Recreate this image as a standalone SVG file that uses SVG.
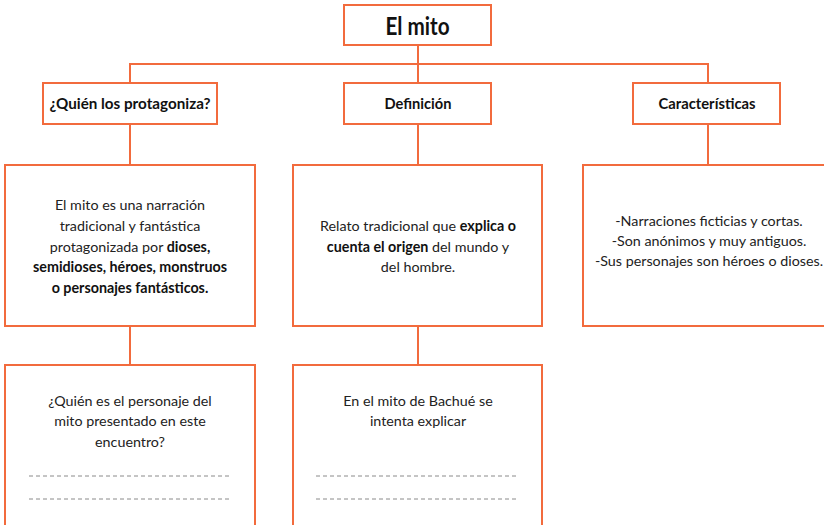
<svg xmlns="http://www.w3.org/2000/svg" width="824" height="525" viewBox="0 0 824 525">
<style>
.box{fill:#fff;stroke:#F26B3D;stroke-width:2}
.con line, .con path{stroke:#F26B3D;stroke-width:2;fill:none}
.dash{stroke:#8a8a8a;stroke-width:1;stroke-dasharray:4 3}
.t{font-family:Lato,"Open Sans","Liberation Sans",sans-serif;fill:#222;text-anchor:middle}
.title{font-size:25px;font-weight:bold;fill:#111}
.h{font-size:16px;font-weight:bold;fill:#111}
.b{font-size:14.3px}
.bb{font-weight:bold;fill:#111}
</style>
<rect width="824" height="525" fill="#fff"/>
<g class="con" id="connectors">
<line x1="418" y1="45" x2="418" y2="64"/>
<path d="M130 83 V64 H708 V83"/>
<line x1="418" y1="64" x2="418" y2="83"/>
<line x1="130" y1="124" x2="130" y2="165"/>
<line x1="418" y1="124" x2="418" y2="165"/>
<line x1="708" y1="124" x2="708" y2="165"/>
<line x1="130" y1="326" x2="130" y2="365"/>
<line x1="418" y1="326" x2="418" y2="365"/>
</g>
<g id="n-mito">
<rect class="box" x="344" y="5" width="147" height="40"/>
<text class="t title" x="417.5" y="35" textLength="64" lengthAdjust="spacingAndGlyphs">El mito</text>
</g>
<g id="n-quien">
<rect class="box" x="43" y="83" width="174" height="41"/>
<text class="t h" x="130" y="109" textLength="161" lengthAdjust="spacingAndGlyphs">¿Quién los protagoniza?</text>
</g>
<g id="n-def">
<rect class="box" x="344" y="83" width="147" height="41"/>
<text class="t h" x="418" y="109" textLength="67" lengthAdjust="spacingAndGlyphs">Definición</text>
</g>
<g id="n-car">
<rect class="box" x="633" y="83" width="147" height="41"/>
<text class="t h" x="707" y="109" textLength="97" lengthAdjust="spacingAndGlyphs">Características</text>
</g>
<g id="n-quien-desc">
<rect class="box" x="5" y="165" width="250" height="161"/>
<text class="t b" x="130" y="210">El mito es una narración</text>
<text class="t b" x="130" y="231">tradicional y fantástica</text>
<text class="t b" x="130" y="252">protagonizada por <tspan class="bb">dioses,</tspan></text>
<text class="t b bb" x="130" y="272">semidioses, héroes, monstruos</text>
<text class="t b bb" x="130" y="293">o personajes fantásticos.</text>
</g>
<g id="n-def-desc">
<rect class="box" x="293" y="165" width="249" height="161"/>
<text class="t b" x="418" y="231">Relato tradicional que <tspan class="bb">explica o</tspan></text>
<text class="t b" x="418" y="252"><tspan class="bb">cuenta el origen</tspan> del mundo y</text>
<text class="t b" x="418" y="272">del hombre.</text>
</g>
<g id="n-car-desc">
<rect class="box" x="583" y="165" width="252" height="161"/>
<text class="t b" x="709" y="226">-Narraciones ficticias y cortas.</text>
<text class="t b" x="709" y="246">-Son anónimos y muy antiguos.</text>
<text class="t b" x="709" y="266">-Sus personajes son héroes o dioses.</text>
</g>
<g id="n-quien-q">
<rect class="box" x="5" y="365" width="250" height="180"/>
<text class="t b" x="130" y="406">¿Quién es el personaje del</text>
<text class="t b" x="130" y="426">mito presentado en este</text>
<text class="t b" x="130" y="447">encuentro?</text>
<line class="dash" x1="29" y1="476" x2="232" y2="476"/>
<line class="dash" x1="29" y1="499" x2="232" y2="499"/>
</g>
<g id="n-def-q">
<rect class="box" x="293" y="365" width="249" height="180"/>
<text class="t b" x="418" y="406">En el mito de Bachué se</text>
<text class="t b" x="418" y="426">intenta explicar</text>
<line class="dash" x1="316" y1="476" x2="519" y2="476"/>
<line class="dash" x1="316" y1="499" x2="519" y2="499"/>
</g>
</svg>
